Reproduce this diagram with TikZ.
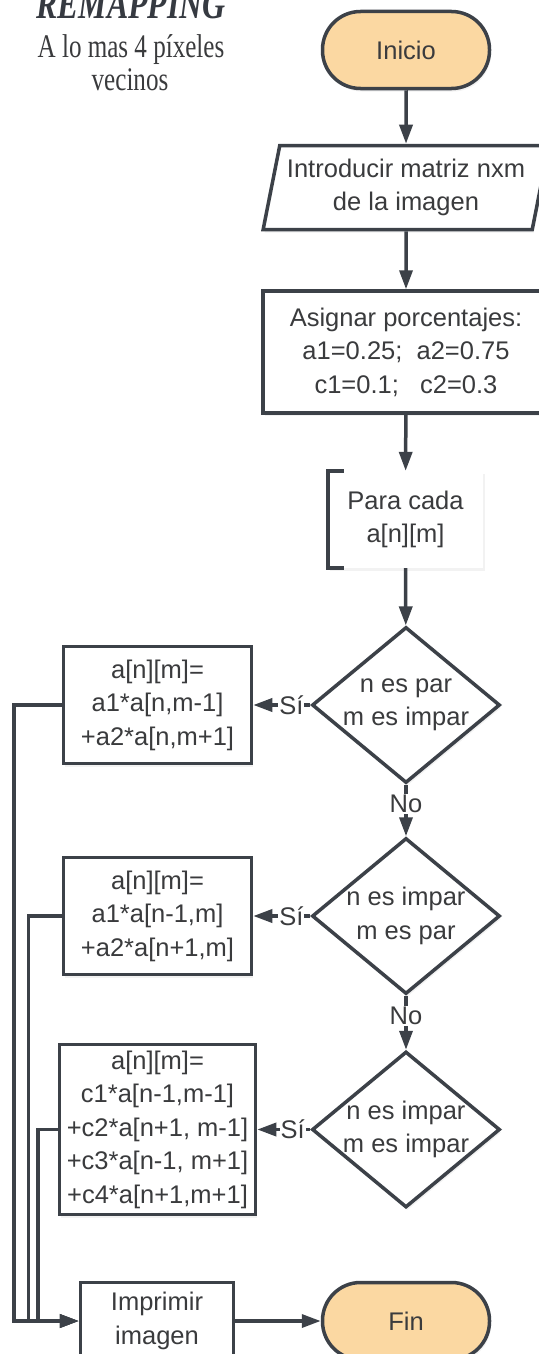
\documentclass[tikz,border=0pt]{standalone}
\usepackage{fontspec}
\setmainfont{Liberation Sans}
\newfontfamily\titlefont{Liberation Serif}[FakeStretch=0.76]
\usetikzlibrary{arrows.meta,shapes.geometric,shadows}
\definecolor{ink}{HTML}{3C4148}
\definecolor{txt}{HTML}{3A3B3D}
\definecolor{peach}{HTML}{FBD8A2}

\begin{document}
\begin{tikzpicture}[x=1pt,y=1pt,font=\fontsize{25.5}{33.5}\selectfont,text=txt,>={Triangle[length=19pt,width=13pt]},
 soft/.style={drop shadow={opacity=.1,shadow xshift=1.5pt,shadow yshift=-3pt}},
 term/.style={draw=ink,line width=3.5pt,fill=peach,rounded corners=38pt,minimum width=167pt,minimum height=77pt,soft},
 io/.style={trapezium,trapezium left angle=76,trapezium right angle=104,trapezium stretches=true,draw=ink,line width=3.5pt,fill=white,minimum width=286pt,minimum height=84pt,inner xsep=2pt,align=center,soft},
 proc/.style={draw=ink,line width=3.5pt,fill=white,align=center,inner sep=4pt,soft},
 loopbox/.style={fill=white,minimum width=155pt,minimum height=97pt,align=center,soft},
 decision/.style={diamond,draw=ink,line width=3.5pt,fill=white,minimum width=188pt,minimum height=156pt,inner sep=0pt,soft},
 dlabel/.style={align=center},
 tag/.style={fill=white,inner sep=1pt},
 flow/.style={->,draw=ink,line width=3.5pt}]
\useasboundingbox (0,0) rectangle (538,-1354);
\fill[white] (0,0) rectangle (538,-1354);
\node[anchor=base,text=ink!90!black,font=\titlefont\bfseries\itshape\fontsize{42}{44}\selectfont] (title) at (131,-18.5) {REMAPPING};
\node[anchor=base,font=\titlefont\fontsize{33}{35}\selectfont] (sub1) at (131,-58) {A lo mas 4 píxeles};
\node[anchor=base,font=\titlefont\fontsize{33}{35}\selectfont] (sub2) at (130,-90.5) {vecinos};
\node[term] (start) at (406,-50) {Inicio};
\node[io] (input) at (406,-187.5) {Introducir matriz nxm\\de la imagen};
\node[proc,minimum width=286pt,minimum height=122pt] (perc) at (406,-352) {Asignar porcentajes:\\a1=0.25;\ \ a2=0.75\\c1=0.1;\ \ \ c2=0.3};
\node[loopbox] (each) at (405.5,-519.5) {Para cada\\a[n][m]};
\draw[ink,line width=3.5pt] ([xshift=16pt]each.north west) -- (each.north west) -- (each.south west) -- ([xshift=16pt]each.south west);
\node[decision] (d1) at (406,-705) {};
\node[dlabel] (q1) at (d1) {n es par\\m es impar};
\node[decision] (d2) at (406,-916) {};
\node[dlabel] (q2) at (d2) {n es impar\\m es par};
\node[decision] (d3) at (406,-1129.5) {};
\node[dlabel] (q3) at (d3) {n es impar\\m es impar};
\node[proc,minimum width=188pt,minimum height=117pt] (b1) at (157.5,-705) {a[n][m]=\\a1*a[n,m-1]\\+a2*a[n,m+1]};
\node[proc,minimum width=188pt,minimum height=117pt] (b2) at (157.5,-916) {a[n][m]=\\a1*a[n-1,m]\\+a2*a[n+1,m]};
\node[proc,minimum width=196pt,minimum height=170pt] (b3) at (157.5,-1129.5) {a[n][m]=\\c1*a[n-1,m-1]\\+c2*a[n+1, m-1]\\+c3*a[n-1, m+1]\\+c4*a[n+1,m+1]};
\node[proc,minimum width=153pt,minimum height=77pt] (print) at (157,-1321) {Imprimir\\imagen};
\node[term] (end) at (406,-1321) {Fin};
\foreach \x/\y in {start/input,input/perc,perc/each,each/d1,print/end}{\draw[flow] (\x) -- (\y);}
\foreach \x/\y in {d1/b1,d2/b2,d3/b3}{\draw[flow] (\x) -- node[tag,pos=.33] {Sí} (\y);}
\foreach \x/\y in {d1/d2,d2/d3}{\draw[flow] (\x) -- node[tag,pos=.38] {No} (\y);}
\foreach \b/\d in {b1/48,b2/33.5,b3/19.6}{\draw[flow] (\b.west) -- ++(-\d,0) |- (print.west);}
\end{tikzpicture}
\end{document}
